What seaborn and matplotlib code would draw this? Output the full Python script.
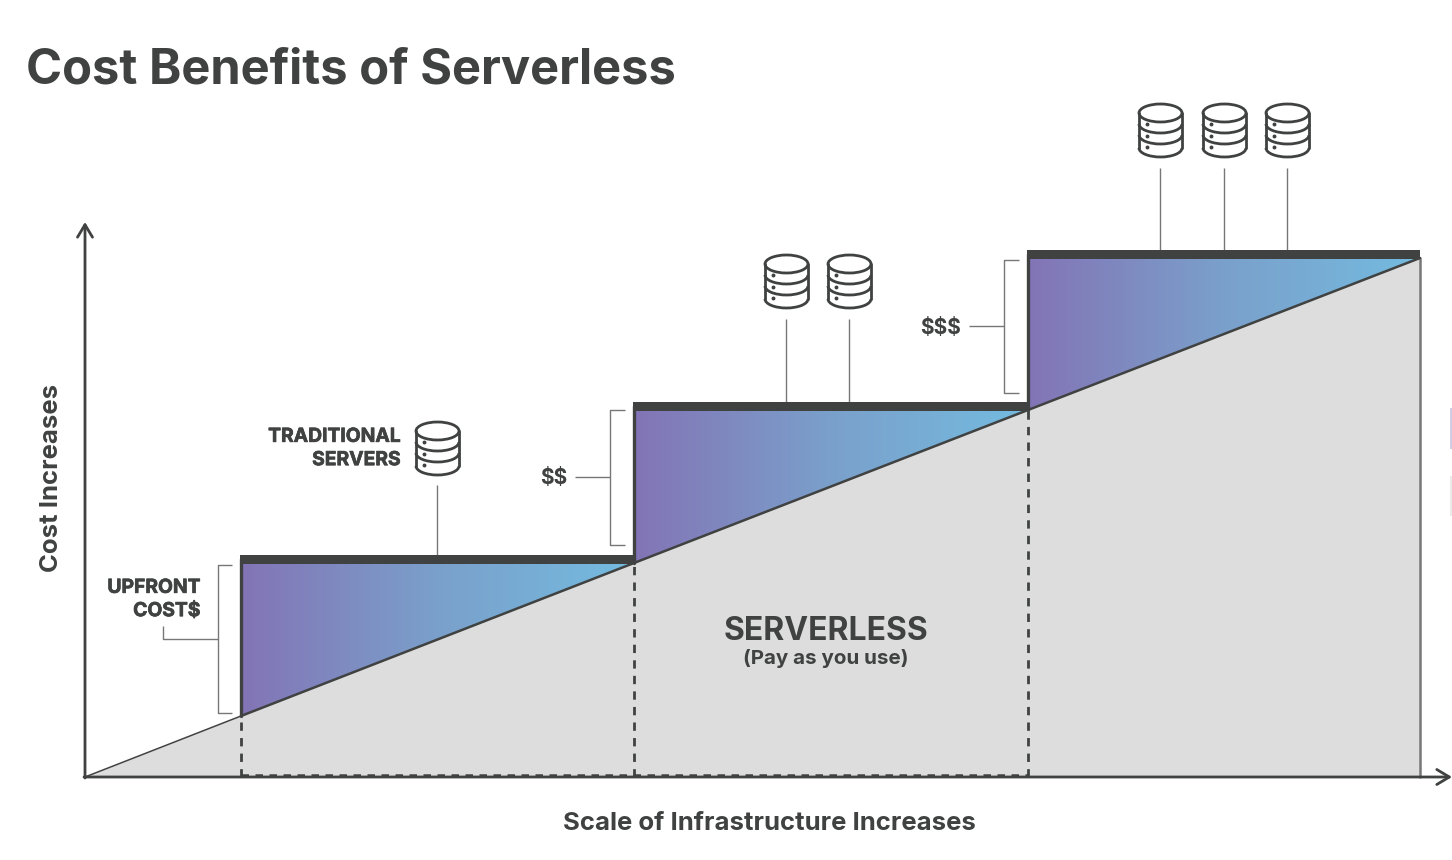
"""
Cost Benefits of Serverless - step cost vs pay as you use
"""

import numpy as np
import pandas as pd
import matplotlib.pyplot as plt
import matplotlib.patheffects as pe
import seaborn as sns
from matplotlib.colors import LinearSegmentedColormap
from matplotlib.patches import Arc, Ellipse, Polygon, Rectangle

# values, one unit is one pixel from the origin
scale_points = [0, 156, 549, 943, 1335]
serverless_cost = [0, 61, 214, 367, 519]
step_start = [156, 549, 943]
step_end = [549, 943, 1335]
step_cost = [218, 371, 523]
step_low = [61, 214, 367]
step_labels = ["UPFRONT\nCOST$", "$$", "$$$"]

title = "Cost Benefits of Serverless"
x_label = "Scale of Infrastructure Increases"
y_label = "Cost Increases"

DARK = "#404141"
GREY = "#777777"
X0, Y0 = 85, 777

sns.set_theme(style="white")
plt.rcParams["font.family"] = ["Inter", "DejaVu Sans"]

fig = plt.figure(figsize=(14.52, 8.6), dpi=100)
ax = fig.add_axes([0, 0, 1, 1])
ax.set_axis_off()


def px(x, y):
    # picture pixel to chart units
    return x - X0, Y0 - y


def thin(xs, ys, color=GREY, lw=1.0):
    pts = [px(x, y) for x, y in zip(xs, ys)]
    ax.plot([p[0] for p in pts], [p[1] for p in pts], color=color, lw=lw,
            solid_capstyle="butt", zorder=2)


def label(x, y, text, size, heavy=False, **kw):
    cx, cy = px(x, y)
    t = ax.text(cx, cy, text, fontsize=size, color=DARK, fontweight="bold",
                va="center", parse_math=False, **kw)
    if heavy:
        # the small caps labels are a touch heavier than Inter bold
        t.set_path_effects([pe.withStroke(linewidth=0.5, foreground=DARK)])


def database(cx_px, top_px):
    # stacked disk icon, 45 x 54 px
    cx, top = px(cx_px, top_px)
    rx, ry = 21.5, 9
    lw = 2.0
    mid = top - ry - 1
    ax.add_patch(Ellipse((cx, mid), 2 * rx, 2 * ry, fc="white", ec=DARK, lw=lw, zorder=4))
    ax.plot([cx - rx, cx - rx], [mid, mid - 35], color=DARK, lw=lw, zorder=4)
    ax.plot([cx + rx, cx + rx], [mid, mid - 35], color=DARK, lw=lw, zorder=4)
    for drop in [11, 22, 35]:
        ax.add_patch(Arc((cx, mid - drop), 2 * rx, 2 * ry, theta1=180, theta2=360,
                         ec=DARK, lw=lw, zorder=4))
    for drop in [21, 33, 44]:
        ax.plot(cx - 14, top - drop, "o", color=DARK, ms=1.8, zorder=5)


# serverless area
ax.fill_between(scale_points, 0, serverless_cost, color="#dddddd", lw=0, zorder=1)

# gradient triangles between the step and the line
cmap = LinearSegmentedColormap.from_list("step", ["#8374b6", "#7aa0cb", "#74bbe0"])
gradient = np.linspace(0, 1, 256).reshape(1, -1)
for x0, x1, low, top in zip(step_start, step_end, step_low, step_cost):
    im = ax.imshow(gradient, cmap=cmap, aspect="auto", extent=(x0, x1, low, top), zorder=2)
    next_low = serverless_cost[scale_points.index(x1)]
    tri = Polygon([(x0, low), (x0, top), (x1, top), (x1, next_low)], closed=True,
                  transform=ax.transData, fc="none", ec="none")
    ax.add_patch(tri)
    im.set_clip_path(tri)

# diagonal line, thinner before the first step
df = pd.DataFrame({"scale": scale_points, "cost": serverless_cost})
sns.lineplot(data=df.iloc[:2], x="scale", y="cost", color=DARK, lw=1.1, ax=ax, zorder=5,
             legend=False, errorbar=None)
sns.lineplot(data=df.iloc[1:], x="scale", y="cost", color=DARK, lw=1.8, ax=ax, zorder=5,
             legend=False, errorbar=None)
ax.set_xlabel("")
ax.set_ylabel("")

# steps of the traditional servers
for x0, x1, low, top in zip(step_start, step_end, step_low, step_cost):
    ax.add_patch(Rectangle((x0 - 1, top - 4.5), x1 - x0 + 1, 9, fc=DARK, ec="none", zorder=6))
    ax.plot([x0, x0], [low, top], color=DARK, lw=2.4, zorder=6)

# dashed drops and base
for x0, low in zip(step_start, step_low):
    ax.plot([x0, x0], [0, low], color=DARK, lw=2, ls=(0, (3, 2.6)), zorder=5)
ax.plot([step_start[0], step_start[2]], [2, 2], color=DARK, lw=1.8, ls=(0, (3, 2.6)), zorder=5)

# right edge of the serverless area
ax.plot([scale_points[-1]] * 2, [0, serverless_cost[-1]], color=GREY, lw=1.8, zorder=3)

# axes with open arrow heads
ax.annotate("", xy=px(1452, 777), xytext=(-1, 0),
            arrowprops=dict(arrowstyle="->,head_length=0.75,head_width=0.45", color=DARK, lw=2,
                            shrinkA=0, shrinkB=0), zorder=7)
ax.annotate("", xy=px(85, 222), xytext=(0, -1),
            arrowprops=dict(arrowstyle="->,head_length=0.75,head_width=0.45", color=DARK, lw=2,
                            shrinkA=0, shrinkB=0), zorder=7)

# brackets left of each step
brackets = [(232, 218, 565, 713), (625, 610, 410, 545), (1019, 1004, 260, 393)]
for x_in, x_out, y_a, y_b in brackets:
    thin([x_in, x_out, x_out, x_in], [y_a, y_a, y_b, y_b])
thin([163, 163, 218], [626, 639, 639])
thin([575, 610], [477, 477])
thin([969, 1004], [326, 326])

# server icons with leader lines
icon_x = [[437.5], [786.5, 849.5], [1160.5, 1224.5, 1287.5]]
icon_top = [421, 254, 103]
leader_top = [485, 319, 168]
leader_bottom = [555, 402, 250]
for xs, top, l_top, l_bot in zip(icon_x, icon_top, leader_top, leader_bottom):
    for x in xs:
        database(x, top)
        thin([x - 0.7, x - 0.7], [l_top, l_bot])

# text
label(26, 71, title, 35.2, ha="left")
label(400.5, 448.5, "TRADITIONAL\nSERVERS", 13.9, heavy=True, ha="right", linespacing=1.38)
label(200.5, 599.5, step_labels[0], 13.9, heavy=True, ha="right", linespacing=1.38)
label(554, 478.5, step_labels[1], 15, ha="center")
label(941, 328.5, step_labels[2], 15, ha="center")
label(826, 631, "SERVERLESS", 23, ha="center")
label(826, 659, "(Pay as you use)", 14.8, ha="center")
label(769, 823, x_label, 18.5, ha="center")
label(52, 478, y_label, 18.5, ha="center", rotation=90)

# cut off marks at the right edge of the picture
thin([1451, 1451], [408, 449], color="#c9c4de", lw=1.2)
thin([1451, 1451], [476, 516], color="#e6e6e6", lw=1.2)

ax.set_xlim(-X0, 1452 - X0)
ax.set_ylim(Y0 - 860, Y0)

plt.savefig("out.png", dpi=100)
